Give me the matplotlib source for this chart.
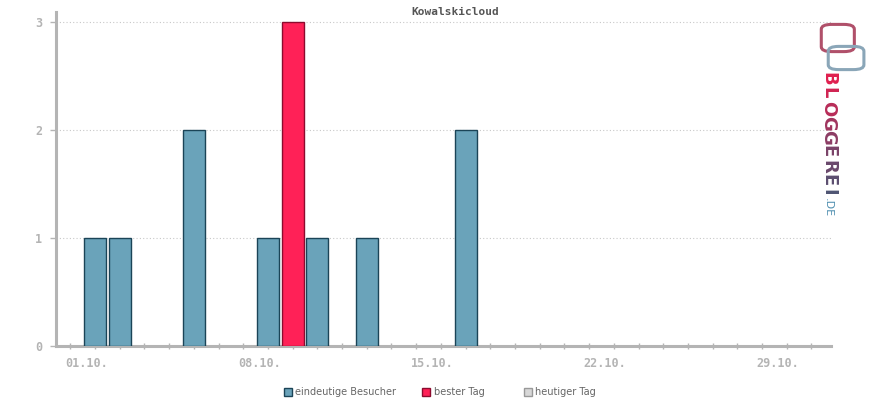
import matplotlib
matplotlib.use('Agg')
import matplotlib.pyplot as plt
from matplotlib.patches import Rectangle, FancyBboxPatch

title = 'Kowalskicloud'
days = [1, 2, 5, 8, 9, 10, 12, 16]
visitors = [1, 1, 2, 1, 3, 1, 1, 2]
best_day = 9
tick_days = list(range(0, 31))
label_days = [1, 8, 15, 22, 29]
label_texts = ['01.10.', '08.10.', '15.10.', '22.10.', '29.10.']
legend_labels = ['eindeutige Besucher', 'bester Tag', 'heutiger Tag']

blue = '#6aa3ba'
blue_edge = '#1b4457'
red = '#ff2157'
red_edge = '#8c0b2e'
grey = '#b4b4b4'

fig = plt.figure(figsize=(8.7, 4), dpi=100)
ax = fig.add_axes([0.0644, 0.135, 0.891, 0.835])

colors = [red if d == best_day else blue for d in days]
edges = [red_edge if d == best_day else blue_edge for d in days]
ax.bar(days, visitors, width=0.89, color=colors, edgecolor=edges, linewidth=1, zorder=3)

ax.set_xlim(-0.58, 30.8)
ax.set_ylim(0, 3.09)

ax.set_yticks([0, 1, 2, 3])
ax.set_yticklabels(['0', '1', '2', '3'])
for y in [1, 2, 3]:
    ax.axhline(y, color='#c8c8c8', lw=0.8, ls=(0, (1, 2)), zorder=1)

ax.set_xticks(tick_days)
ax.set_xticklabels([])
for d, t in zip(label_days, label_texts):
    ax.text(d - 0.35, -0.1, t, ha='center', va='top', fontsize=8.5,
            family='DejaVu Sans Mono', fontweight='bold', color=grey)

ax.tick_params(axis='x', direction='inout', length=5, width=1, color=grey)
ax.tick_params(axis='y', direction='out', length=4, width=1, color=grey,
               labelcolor=grey, labelsize=8.5, pad=6)
for lab in ax.get_yticklabels():
    lab.set_family('DejaVu Sans Mono')
    lab.set_fontweight('bold')

for s in ['top', 'right']:
    ax.spines[s].set_visible(False)
for s in ['left', 'bottom']:
    ax.spines[s].set_color(grey)
    ax.spines[s].set_linewidth(2.2)

fig.text(0.523, 0.97, title, ha='center', va='center', fontsize=8,
         family='DejaVu Sans Mono', fontweight='bold', color='#555555')

# legend
leg_x = [0.326, 0.485, 0.602]
leg_fc = [blue, red, '#d8d8d8']
leg_ec = [blue_edge, red_edge, '#999999']
for x, fc, ec, lab in zip(leg_x, leg_fc, leg_ec, legend_labels):
    fig.patches.append(Rectangle((x, 0.0105), 0.0095, 0.02, transform=fig.transFigure,
                                 facecolor=fc, edgecolor=ec, linewidth=1))
    fig.text(x + 0.0135, 0.021, lab, ha='left', va='center', fontsize=7, color='#666666')

# logo
fig.patches.append(FancyBboxPatch((0.948, 0.875), 0.03, 0.06, boxstyle='round,pad=0.004,rounding_size=0.012',
                                  transform=fig.transFigure, facecolor='none',
                                  edgecolor='#b0506a', linewidth=2.2))
fig.patches.append(FancyBboxPatch((0.956, 0.83), 0.033, 0.05, boxstyle='round,pad=0.004,rounding_size=0.012',
                                  transform=fig.transFigure, facecolor='none',
                                  edgecolor='#8aa6b8', linewidth=2.2))
logo = 'BLOGGEREI'
logo_cols = ['#e0204f', '#d02452', '#b82c58', '#a0355e', '#8c3c64', '#7a4268', '#6a486c', '#5c4e70', '#4f5573']
y = 0.82
for ch, c in zip(logo, logo_cols):
    fig.text(0.952, y, ch, rotation=-90, ha='center', va='top', fontsize=13,
             fontweight='bold', color=c)
    y -= 0.0365 if ch not in 'I' else 0.018
fig.text(0.952, y - 0.005, '.DE', rotation=-90, ha='center', va='top', fontsize=8,
         color='#4f8fb0')

fig.savefig('out.png', dpi=100)
